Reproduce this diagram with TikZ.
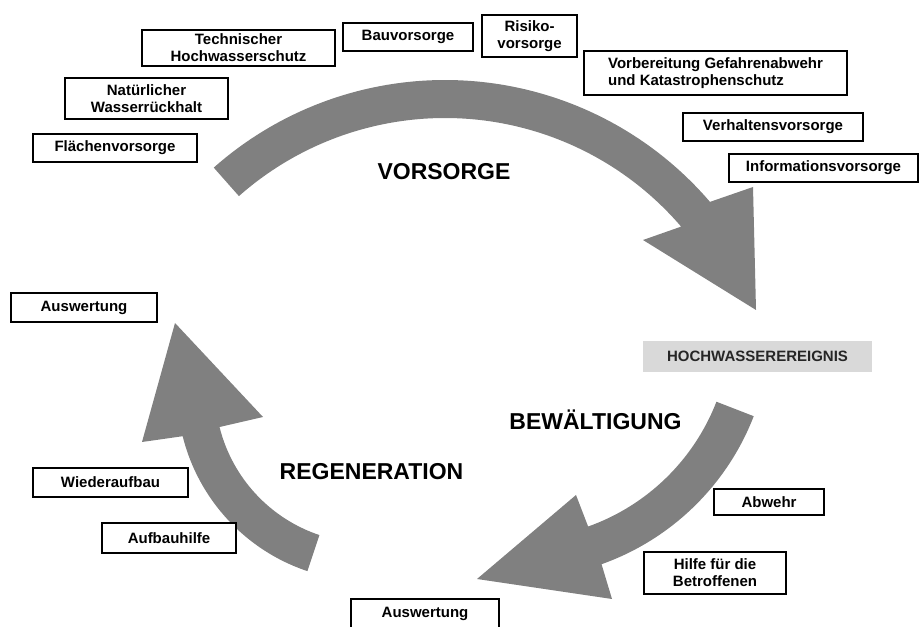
\documentclass[tikz,border=0pt]{standalone}
\usepackage{fontspec}
\setmainfont{Liberation Sans}
\usepackage{tkz-euclide}
\definecolor{ArrowClr}{rgb}{0.5,0.5,0.5}
\definecolor{EventClr}{rgb}{0.85,0.85,0.85}
\tikzset{
  mbox/.style={draw,line width=1.3pt,fill=white,align=center,inner sep=0pt,
    font=\bfseries\fontsize{15}{17}\selectfont},
  phase/.style={anchor=base,font=\bfseries\fontsize{23}{23}\selectfont}
}

\begin{document}
\begin{tikzpicture}[x=1pt,y=1pt]
\useasboundingbox (0,0) rectangle (920,626);
\tkzDefPoints{445/197/O1,516/302/O2,368/236/O3}

% Vorsorge
\fill[ArrowClr] ([shift={(131.5:349)}]O1) arc[start angle=131.5,end angle=40.6,radius=349]
  -- (753,439) -- (756,316) -- (643,386)
  -- ([shift={(40.6:311)}]O1) arc[start angle=40.6,end angle=131.5,radius=311] -- cycle;
% Bewaeltigung
\fill[ArrowClr] ([shift={(-21.2:215)}]O2) arc[start angle=-21.2,end angle=-70.4,radius=215]
  -- (576,131) -- (477,47) -- (612,27)
  -- ([shift={(-70.4:255)}]O2) arc[start angle=-70.4,end angle=-21.2,radius=255] -- cycle;
% Regeneration
\fill[ArrowClr] ([shift={(251.5:191)}]O3) arc[start angle=251.5,end angle=194,radius=191]
  -- (142,184) -- (175,303) -- (263,209)
  -- ([shift={(194:153)}]O3) arc[start angle=194,end angle=251.5,radius=153] -- cycle;

\node[phase] (vorsorge) at (444,446) {VORSORGE};
\node[phase] (bewaelt) at (595.5,196) {BEWÄLTIGUNG};
\node[phase] (regen) at (371.5,146) {REGENERATION};

\node[mbox,minimum width=193pt,minimum height=36pt] (tech) at (238.5,578) {Technischer\\Hochwasserschutz};
\node[mbox,minimum width=130pt,minimum height=28pt] (bau) at (408,589) {Bauvorsorge};
\node[mbox,minimum width=95pt,minimum height=42pt] (risiko) at (529.5,590) {Risiko-\\vorsorge};
\node[mbox,align=left,minimum width=263pt,minimum height=44pt] (vorb) at (715.5,553) {Vorbereitung Gefahrenabwehr\\und Katastrophenschutz};
\node[mbox,minimum width=180pt,minimum height=28pt] (verhalten) at (773,499) {Verhaltensvorsorge};
\node[mbox,minimum width=189pt,minimum height=28pt] (info) at (823.5,458) {Informationsvorsorge};
\node[mbox,minimum width=163pt,minimum height=41pt] (natur) at (146.5,527.5) {Natürlicher\\Wasserrückhalt};
\node[mbox,minimum width=164pt,minimum height=28pt] (flaeche) at (115,478) {Flächenvorsorge};

\node[fill=EventClr,text=black!85,minimum width=229pt,minimum height=31pt,
  font=\bfseries\fontsize{15}{15}\selectfont] (event) at (757.5,269.5) {HOCHWASSEREREIGNIS};

\node[mbox,minimum width=110pt,minimum height=26pt] (abwehr) at (769,124) {Abwehr};
\node[mbox,minimum width=142pt,minimum height=42pt] (hilfe) at (715,53) {Hilfe für die\\Betroffenen};
\node[mbox,minimum width=148pt,minimum height=29pt] (auswB) at (425,12.5) {Auswertung};

\node[mbox,minimum width=155pt,minimum height=29pt] (wieder) at (110.5,143.5) {Wiederaufbau};
\node[mbox,minimum width=134pt,minimum height=30pt] (aufbau) at (169,88) {Aufbauhilfe};
\node[mbox,minimum width=146pt,minimum height=29pt] (auswA) at (84,318.5) {Auswertung};
\end{tikzpicture}
\end{document}
